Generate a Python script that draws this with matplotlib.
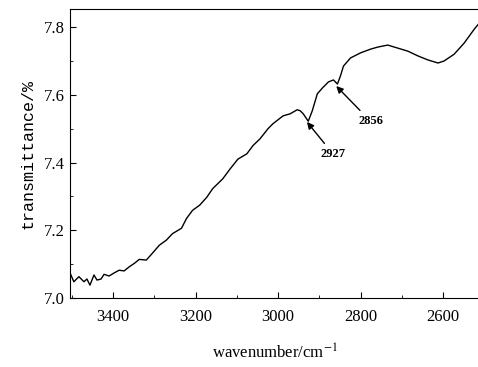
import numpy as np
import matplotlib
matplotlib.use('Agg')
import matplotlib.pyplot as plt
from matplotlib.ticker import MultipleLocator

# spectrum (pixel x -> wavenumber)
px = [70, 75, 80, 85, 88, 91, 95, 98, 102, 105, 110, 115, 120, 125, 130, 135, 140, 147,
      153, 160, 167, 173, 182, 187, 193, 200, 207, 213, 223, 230, 238, 247, 253, 260, 268,
      273, 283, 290, 297, 300, 303, 308, 312, 317, 322, 328, 333, 337, 340, 343, 350, 360,
      370, 377, 387, 397, 407, 417, 427, 437, 443, 453, 463, 473, 478]
trans = [7.082, 7.048, 7.063, 7.048, 7.056, 7.038, 7.068, 7.053, 7.056, 7.070, 7.065,
         7.074, 7.082, 7.080, 7.092, 7.102, 7.114, 7.112, 7.132, 7.156, 7.171, 7.190,
         7.206, 7.235, 7.259, 7.274, 7.297, 7.323, 7.352, 7.380, 7.410, 7.426, 7.450,
         7.470, 7.500, 7.515, 7.538, 7.544, 7.556, 7.553, 7.544, 7.522, 7.553, 7.603,
         7.620, 7.638, 7.644, 7.632, 7.656, 7.685, 7.709, 7.724, 7.735, 7.741, 7.747,
         7.738, 7.729, 7.715, 7.703, 7.694, 7.700, 7.720, 7.753, 7.794, 7.812]
wavenumber = [3400 - (p - 114) / 0.41 for p in px]

peaks = [2927, 2856]
peak_y = [7.524, 7.630]
label_xy = [(2866, 7.442), (2776, 7.540)]

plt.rcParams['font.family'] = ['Liberation Serif', 'DejaVu Serif']
plt.rcParams['mathtext.fontset'] = 'stix'

fig = plt.figure(figsize=(4.78, 3.67), dpi=100)
ax = fig.add_axes([0.146, 0.188, 0.856, 0.787])
ax.plot(wavenumber, trans, color='black', linewidth=1.0)

for pk, py, (tx, ty) in zip(peaks, peak_y, label_xy):
    ax.annotate(str(pk), xy=(pk + 3, py - 0.004), xytext=(tx, ty),
                fontsize=9, fontweight='bold', ha='center', va='top',
                arrowprops=dict(arrowstyle='-|>', color='black', lw=1.0,
                                mutation_scale=10, shrinkA=2, shrinkB=0))

ax.set_xlim(3505, 2513)
ax.set_ylim(7.0, 7.853)
ax.xaxis.set_major_locator(MultipleLocator(200))
ax.xaxis.set_minor_locator(MultipleLocator(100))
ax.yaxis.set_major_locator(MultipleLocator(0.2))
ax.yaxis.set_minor_locator(MultipleLocator(0.1))
ax.yaxis.set_major_formatter(matplotlib.ticker.FormatStrFormatter('%.1f'))
ax.tick_params(which='both', direction='in', top=False, right=False, labelsize=12)
ax.tick_params(which='major', length=4)
ax.tick_params(which='minor', length=2)
ax.tick_params(axis='x', pad=8)

ax.set_xlabel('wavenumber/cm$^{-1}$', fontsize=12, labelpad=13)
ax.set_ylabel('transmittance/%', fontsize=12, family='Liberation Mono', labelpad=6)

fig.savefig('out.png', dpi=100)
